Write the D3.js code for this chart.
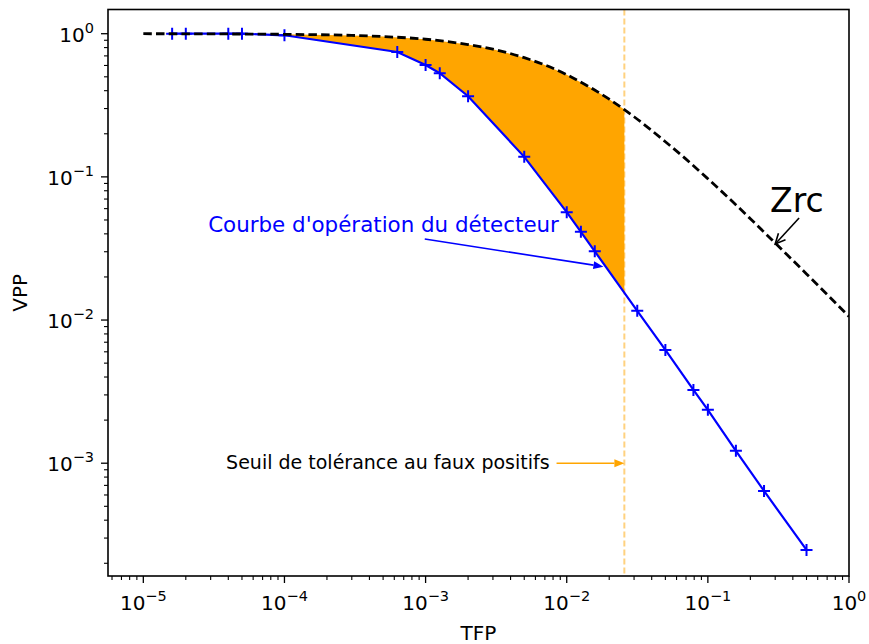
<!DOCTYPE html>
<html><head><meta charset="utf-8">
<script src="https://cdn.jsdelivr.net/npm/d3@7"></script>
<style>body{margin:0;background:#fff}svg{display:block}text{font-family:"DejaVu Sans",sans-serif}</style>
</head><body><svg id="c" width="869" height="644"></svg>
<script>
// detector operating points (TFP, VPP)
const tfp = [1.6e-5, 2e-5, 4e-5, 5e-5, 1e-4, 6.3e-4, 1e-3, 1.26e-3, 2e-3, 5e-3, 1e-2, 1.26e-2, 1.58e-2, 3.16e-2, 5e-2, 7.9e-2, 1e-1, 1.58e-1, 2.5e-1, 5e-1];
const vpp = [1.0, 1.0, 1.0, 1.0, 0.975, 0.745, 0.604, 0.53, 0.366, 0.138, 0.0567, 0.0413, 0.0302, 0.0116, 0.00618, 0.00325, 0.00236, 0.00122, 0.00064, 0.000248];
// Zrc reference curve
const zrcX = [1e-5, 3e-5, 1e-4, 3e-4, 5e-4, 1e-3, 2e-3, 3e-3, 5e-3, 7e-3, 1e-2, 1.5e-2, 2e-2, 2.56e-2, 3e-2, 5e-2, 7e-2, 0.1, 0.15, 0.2, 0.3, 0.5, 0.7, 1.0];
const zrcY = [1.0, 0.997, 0.99, 0.973, 0.955, 0.915, 0.84, 0.78, 0.68, 0.605, 0.517, 0.416, 0.349, 0.295, 0.263, 0.176, 0.133, 0.097, 0.067, 0.051, 0.0345, 0.021, 0.0151, 0.0106];
const threshold = 0.0256;
const xTickExps = [-5, -4, -3, -2, -1, 0];
const yTickExps = [-3, -2, -1, 0];
const labels = {x: "TFP", y: "VPP", detector: "Courbe d'opération du détecteur", seuil: "Seuil de tolérance au faux positifs", zrc: "Zrc"};

const svg = d3.select("#c");
const L = 108, R = 849, T = 9.5, B = 576;
const x = d3.scaleLog().domain([5.62e-6, 1]).range([L, R]);
const y = d3.scaleLog().domain([1.63e-4, 1.476]).range([B, T]);

svg.append("clipPath").attr("id", "plot").append("rect").attr("x", L).attr("y", T).attr("width", R - L).attr("height", B - T);
svg.append("clipPath").attr("id", "fillclip").append("rect").attr("x", L).attr("y", T).attr("width", x(threshold) - L).attr("height", B - T);

// fill between Zrc and detector curve up to threshold
const poly = zrcX.map((d, i) => [x(d), y(zrcY[i])]).concat(tfp.map((d, i) => [x(d), y(vpp[i])]).reverse());
svg.append("path").attr("clip-path", "url(#fillclip)")
  .attr("d", "M" + poly.map(p => p.join(",")).join("L") + "Z")
  .attr("fill", "#ffa500").attr("stroke", "none");

// threshold line
svg.append("line").attr("x1", x(threshold)).attr("x2", x(threshold)).attr("y1", T).attr("y2", B)
  .attr("stroke", "#ffa500").attr("stroke-opacity", 0.5).attr("stroke-width", 2).attr("stroke-dasharray", "6,3");

// detector line
const g = svg.append("g").attr("clip-path", "url(#plot)");
g.append("path").datum(tfp.map((d, i) => [d, vpp[i]]))
  .attr("d", d3.line().x(d => x(d[0])).y(d => y(d[1])))
  .attr("fill", "none").attr("stroke", "#0000ff").attr("stroke-width", 2.2);
g.selectAll("path.m").data(tfp.map((d, i) => [d, vpp[i]])).join("path").attr("class", "m")
  .attr("d", d => `M${x(d[0]) - 6},${y(d[1])}h12M${x(d[0])},${y(d[1]) - 6}v12`)
  .attr("stroke", "#0000ff").attr("stroke-width", 2);

// Zrc dashed line
g.append("path").datum(zrcX.map((d, i) => [d, zrcY[i]]))
  .attr("d", d3.line().x(d => x(d[0])).y(d => y(d[1])).curve(d3.curveMonotoneX))
  .attr("fill", "none").attr("stroke", "#000").attr("stroke-width", 2.8).attr("stroke-dasharray", "8.5,4.2");

// frame
svg.append("rect").attr("x", L).attr("y", T).attr("width", R - L).attr("height", B - T)
  .attr("fill", "none").attr("stroke", "#000").attr("stroke-width", 1.6);

// ticks
const minor = (lo, hi) => { const a = []; for (let e = lo; e <= hi; e++) for (let k = 2; k <= 9; k++) a.push(k * Math.pow(10, e)); return a; };
const xMin = minor(-6, -1).filter(v => v >= x.domain()[0] && v <= 1);
const yMin = minor(-4, 0).filter(v => v >= y.domain()[0] && v <= y.domain()[1]);
const tk = svg.append("g").attr("stroke", "#000").attr("stroke-width", 1.3);
xTickExps.forEach(e => { const px = x(Math.pow(10, e)); tk.append("line").attr("x1", px).attr("x2", px).attr("y1", B).attr("y2", B + 7); });
xMin.forEach(v => { const px = x(v); tk.append("line").attr("x1", px).attr("x2", px).attr("y1", B).attr("y2", B + 4).attr("stroke-width", 1.1); });
yTickExps.forEach(e => { const py = y(Math.pow(10, e)); tk.append("line").attr("y1", py).attr("y2", py).attr("x1", L).attr("x2", L - 7); });
yMin.forEach(v => { const py = y(v); tk.append("line").attr("y1", py).attr("y2", py).attr("x1", L).attr("x2", L - 4).attr("stroke-width", 1.1); });

function powLabel(sel, e) {
  sel.append("tspan").text("10");
  sel.append("tspan").attr("dy", -9).attr("font-size", 14.5).text(e < 0 ? "\u2212" + (-e) : String(e));
}
xTickExps.forEach(e => {
  const t = svg.append("text").attr("x", x(Math.pow(10, e))).attr("y", 610).attr("text-anchor", "middle").attr("font-size", 20);
  powLabel(t, e);
});
yTickExps.forEach(e => {
  const t = svg.append("text").attr("x", 94).attr("y", y(Math.pow(10, e)) + 8).attr("text-anchor", "end").attr("font-size", 20);
  powLabel(t, e);
});
svg.append("text").attr("x", (L + R) / 2).attr("y", 640).attr("text-anchor", "middle").attr("font-size", 20).text(labels.x);
svg.append("text").attr("transform", `translate(27,${(T + B) / 2}) rotate(-90)`).attr("text-anchor", "middle").attr("font-size", 20).text(labels.y);

// annotations
function arrow(x1, y1, x2, y2, color, filled) {
  const ang = Math.atan2(y2 - y1, x2 - x1), hl = 10, hw = 4;
  const bx = x2 - hl * Math.cos(ang), by = y2 - hl * Math.sin(ang);
  const px = -Math.sin(ang) * hw, py = Math.cos(ang) * hw;
  if (filled) {
    svg.append("line").attr("x1", x1).attr("y1", y1).attr("x2", bx).attr("y2", by).attr("stroke", color).attr("stroke-width", 1.6);
    svg.append("path").attr("d", `M${x2},${y2}L${bx + px},${by + py}L${bx - px},${by - py}Z`).attr("fill", color);
  } else {
    svg.append("line").attr("x1", x1).attr("y1", y1).attr("x2", x2).attr("y2", y2).attr("stroke", color).attr("stroke-width", 1.6);
    svg.append("path").attr("d", `M${bx + px * 1.2},${by + py * 1.2}L${x2},${y2}L${bx - px * 1.2},${by - py * 1.2}`).attr("fill", "none").attr("stroke", color).attr("stroke-width", 1.6);
  }
}
svg.append("text").attr("x", x(2.88e-5)).attr("y", y(0.0412)).attr("font-size", 21.4).attr("fill", "#0000ff").text(labels.detector);
arrow(x(9.86e-4), y(0.0368), x(0.0182), y(0.0236), "#0000ff", true);
svg.append("text").attr("x", x(3.86e-5)).attr("y", y(1e-3) + 6).attr("font-size", 19).attr("fill", "#000").text(labels.seuil);
arrow(x(0.00847), y(1e-3), x(threshold), y(1e-3), "#ffa500", true);
svg.append("text").attr("x", x(0.276)).attr("y", y(0.0569)).attr("font-size", 33).attr("fill", "#000").text(labels.zrc);
arrow(x(0.443), y(0.0516), x(0.300), y(0.034), "#000", false);
</script></body></html>
